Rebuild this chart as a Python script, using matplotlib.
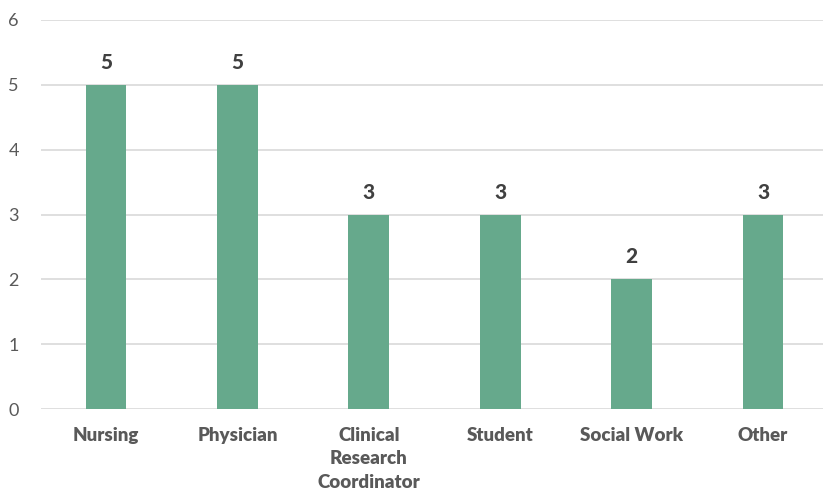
import matplotlib.pyplot as plt
import numpy as np

plt.rcParams['font.family'] = ['Lato', 'DejaVu Sans']

# roles of respondents and head counts
roles = ['Nursing', 'Physician', 'Clinical\nResearch\nCoordinator', 'Student', 'Social Work', 'Other']
counts = [5, 5, 3, 3, 2, 3]
y_ticks = [0, 1, 2, 3, 4, 5, 6]

fig = plt.figure(figsize=(8.23, 4.93), dpi=100)
ax = fig.add_axes([41 / 823, 1 - 409 / 493, 782 / 823, 389 / 493])

x = np.arange(len(roles))
bars = ax.bar(x, counts, width=0.31, color='#66A98C', zorder=3)

for xi, c in zip(x, counts):
    ax.text(xi, c + 0.2, str(c), ha='center', va='bottom', fontsize=15,
            fontweight='black', color='#404040')

ax.set_xlim(-0.495, 5.457)
ax.set_ylim(0, 6)
ax.set_yticks(y_ticks)
ax.yaxis.grid(True, color='#D9D9D9', lw=1.2, zorder=0)
ax.set_axisbelow(True)
for s in ax.spines.values():
    s.set_visible(False)
ax.tick_params(axis='both', length=0)
ax.tick_params(axis='y', pad=16, labelsize=13, labelcolor='#595959')
ax.set_xticks(x)
ax.set_xticklabels(roles, fontsize=13.5, fontweight='heavy', color='#595959',
                   linespacing=1.45, va='top')
ax.tick_params(axis='x', pad=13)

fig.savefig('out.png', dpi=100)
